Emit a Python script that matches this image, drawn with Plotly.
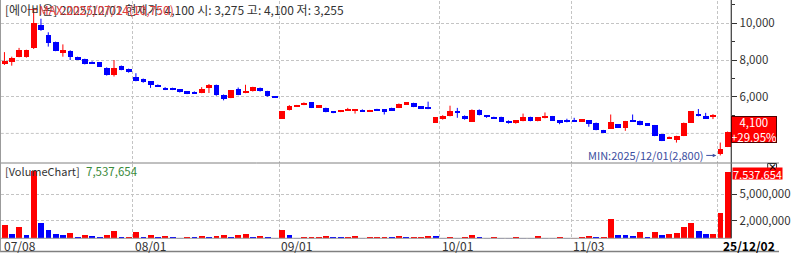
import plotly.graph_objects as go

W, H = 791, 255

# ---------------- data ----------------
stock_name = "에이비온"
opens = [7770, 7910, 8180, 8150, 8630, 9890, 9350, 8990, 8360, 8510,
         8150, 8050, 7890, 7870, 7590, 7190, 7680, 7510, 7100, 6970,
         6830, 6650, 6500, 6470, 6400, 6290, 6270, 6200, 6450, 6650,
         6110, 5930, 6420, 6200, 6290, 6490, 6310, 6020, 4800, 5260,
         5460, 5550, 5690, 5430, 5390, 5190, 5170, 5240, 5260, 5300,
         5190, 5330, 5260, 5390, 5390, 5590, 5660, 5480, 5370, 4580,
         4760, 4940, 5210, 4970, 4630, 5300, 4990, 4900, 4900, 4700,
         4540, 4670, 4900, 4670, 4830, 4940, 4720, 4720, 4700, 4670,
         4720, 4580, 4180, 4250, 4490, 4310, 4720, 4670, 4540, 4450,
         3950, 3730, 3640, 3860, 4580, 5080, 4900, 4900, 2870, 3275]
closes = [7960, 8090, 8540, 8540, 10040, 9660, 8940, 8510, 8540, 8150,
          8050, 7780, 7820, 7640, 7170, 7590, 7460, 7330, 6860, 6780,
          6650, 6560, 6380, 6380, 6250, 6160, 6180, 6430, 6630, 6110,
          5880, 6350, 6090, 6320, 6520, 6290, 6020, 5960, 5200, 5510,
          5530, 5620, 5390, 5460, 5160, 5120, 5240, 5330, 5300, 5200,
          5260, 5260, 5210, 5240, 5620, 5660, 5440, 5350, 5330, 4880,
          4970, 5210, 5100, 4760, 5300, 4990, 4900, 4810, 4630, 4540,
          4720, 4880, 4670, 4880, 4950, 4700, 4580, 4650, 4650, 4760,
          4490, 4180, 4040, 4630, 4310, 4670, 4650, 4450, 4430, 3860,
          3590, 3820, 3860, 4580, 5210, 4940, 4830, 4940, 3155, 4100]
highs = [8430, 8180, 8660, 8560, 10750, 10250, 9510, 9000, 8850, 8530,
         8180, 8070, 7930, 7890, 7600, 8000, 7700, 7530, 7280, 6990,
         6850, 6670, 6520, 6490, 6420, 6300, 6290, 6520, 6690, 6660,
         6120, 6360, 6500, 6650, 6540, 6500, 6320, 6030, 5210, 5540,
         5550, 5690, 5700, 5480, 5400, 5200, 5260, 5390, 5330, 5310,
         5280, 5340, 5280, 5400, 5630, 5700, 5670, 5490, 5730, 4890,
         4990, 5510, 5390, 4980, 5310, 5310, 5000, 4910, 4910, 4710,
         4730, 5080, 4910, 4890, 5140, 4950, 4730, 4800, 4850, 4770,
         4730, 4590, 4190, 5030, 4500, 4680, 5030, 4700, 4550, 4460,
         3960, 3830, 3870, 4590, 5220, 5330, 5120, 5050, 3500, 4100]
lows = [7730, 7690, 8150, 8130, 8600, 9590, 8730, 8480, 8180, 8000,
        8030, 7760, 7780, 7620, 7150, 7100, 7440, 7310, 6840, 6760,
        6480, 6540, 6360, 6360, 6230, 6140, 6160, 6190, 6200, 6050,
        5800, 5920, 6080, 6190, 6280, 6280, 6000, 5940, 4790, 5250,
        5440, 5540, 5380, 5410, 5150, 5100, 5160, 5230, 5080, 5190,
        5180, 5250, 5030, 5230, 5380, 5580, 5430, 5340, 5320, 4570,
        4750, 4930, 4850, 4750, 4620, 4980, 4850, 4800, 4620, 4530,
        4530, 4660, 4660, 4660, 4820, 4690, 4500, 4600, 4640, 4660,
        4360, 4170, 4030, 4240, 4300, 4140, 4640, 4440, 4420, 3850,
        3580, 3720, 3500, 3850, 4570, 4930, 4820, 4780, 2800, 3255]
volumes = [1550000, 580000, 1350000, 470000, 7750000, 1800000, 970000, 580000, 470000, 650000,
           190000, 470000, 270000, 190000, 380000, 850000, 190000, 200000, 730000, 100000,
           380000, 150000, 270000, 190000, 80000, 190000, 150000, 270000, 190000, 270000,
           380000, 190000, 380000, 600000, 190000, 270000, 150000, 80000, 1050000, 390000,
           80000, 100000, 120000, 190000, 270000, 190000, 150000, 160000, 270000, 60000,
           120000, 150000, 160000, 100000, 310000, 100000, 150000, 230000, 320000, 300000,
           50000, 230000, 80000, 150000, 390000, 150000, 40000, 150000, 80000, 40000,
           190000, 80000, 40000, 270000, 80000, 40000, 120000, 50000, 80000, 150000,
           310000, 120000, 150000, 2290000, 390000, 380000, 270000, 780000, 120000, 780000,
           390000, 540000, 620000, 1360000, 1740000, 850000, 500000, 580000, 2900000, 7537654]

grid_idx = [18, 38, 60, 78, 98]
date_labels_idx = [0, 18, 38, 60, 78]
date_labels = ["07/08", "08/01", "09/01", "10/01", "11/03"]
last_date_label = "25/12/02"
price_ticks = [6000, 8000, 10000]
price_hidden_grid = [4000]
vol_ticks = [2000000, 5000000]
vol_tick_text = ["2,000,000", "5,000,000"]

header_text = "[에이비온] 2025/12/02 현재가: 4,100 시: 3,275 고: 4,100 저: 3,255"
max_text = "MAX:2025/07/14(10,750)"
min_text = "MIN:2025/12/01(2,800)"
cur_price_text = "4,100<br>+29.95%"
cur_volume_text = "7,537,654"

# ---------------- layout geometry (pixels) ----------------
X0, X1 = 0.8, 742.5
P_TOP, P_BOT = 1.0, 162.5
V_TOP, V_BOT = 163.5, 238.3
RED, BLUE = "#ff0000", "#0000ff"
FONT = "Noto Sans CJK KR, Noto Sans, sans-serif"
GRID = "#c4c4c4"
Y_RANGE = [2414, 11215]


def fx(px):
    return px / W


def fy(py):
    return 1 - py / H


n = len(opens)
idx = list(range(n))
up = [c >= o for o, c in zip(opens, closes)]

fig = go.Figure()

# wicks
for flag, col in ((True, RED), (False, BLUE)):
    xs, ys = [], []
    for i in idx:
        if up[i] == flag:
            xs += [i, i, None]
            ys += [lows[i], highs[i], None]
    fig.add_trace(go.Scatter(x=xs, y=ys, mode="lines", line=dict(color=col, width=1),
                             hoverinfo="skip", showlegend=False))

# bodies
for flag, col in ((True, RED), (False, BLUE)):
    bx = [i for i in idx if up[i] == flag]
    base = [min(opens[i], closes[i]) for i in bx]
    hgt = [max(abs(closes[i] - opens[i]), 95) for i in bx]
    fig.add_trace(go.Bar(x=bx, y=hgt, base=base, width=0.78, marker=dict(color=col, line=dict(width=0)),
                         showlegend=False, hoverinfo="skip"))

# volume (red when volume rises vs previous day)
vcol = [RED if i == 0 or volumes[i] >= volumes[i - 1] else BLUE for i in idx]
fig.add_trace(go.Bar(x=idx, y=volumes, width=0.8, marker=dict(color=vcol, line=dict(width=0)),
                     xaxis="x2", yaxis="y2", showlegend=False, hoverinfo="skip"))

grid_pos = [g - 0.4 for g in grid_idx]
xcommon = dict(range=[-0.5, n - 0.5], tickvals=grid_pos, showticklabels=False, ticks="",
               showgrid=True, gridcolor=GRID, griddash="3px,2px", gridwidth=1,
               zeroline=False, showline=False, domain=[fx(X0), fx(X1)], fixedrange=True)

fig.update_layout(
    width=W, height=H, margin=dict(l=0, r=0, t=0, b=0),
    paper_bgcolor="white", plot_bgcolor="white", barmode="overlay", bargap=0,
    font=dict(family=FONT, size=12, color="#333"),
    xaxis=dict(anchor="y", **xcommon),
    xaxis2=dict(anchor="y2", matches="x", **xcommon),
    yaxis=dict(domain=[fy(P_BOT), fy(P_TOP)], range=Y_RANGE, side="right",
               tickvals=price_ticks, tickformat=",d", ticks="outside", ticklen=5,
               tickcolor="#333", tickfont=dict(size=11.5, color="#333", family=FONT),
               showgrid=True, gridcolor=GRID, griddash="3px,2px", zeroline=False,
               showline=False, fixedrange=True,
               minor=dict(tickvals=[5000, 7000, 9000, 11000], ticks="outside", ticklen=3,
                          tickcolor="#333", showgrid=False)),
    yaxis2=dict(domain=[fy(V_BOT), fy(V_TOP)], range=[0, 8500000], side="right",
                tickvals=vol_ticks, ticktext=vol_tick_text, ticks="outside", ticklen=5,
                tickcolor="#333", tickfont=dict(size=11.5, color="#333", family=FONT),
                showgrid=True, gridcolor=GRID, griddash="3px,2px", zeroline=False,
                showline=False, fixedrange=True),
)

shapes = [
    dict(type="line", xref="paper", yref="paper", x0=fx(X1), x1=fx(X1), y0=fy(0), y1=fy(V_BOT),
         line=dict(color="#111", width=1)),
    dict(type="line", xref="paper", yref="paper", x0=0, x1=1, y0=fy(163), y1=fy(163),
         line=dict(color="#808080", width=1)),
    dict(type="line", xref="paper", yref="paper", x0=0, x1=fx(X1), y0=fy(V_BOT), y1=fy(V_BOT),
         line=dict(color="#9a9a9a", width=1)),
    dict(type="line", xref="paper", yref="paper", x0=0, x1=1, y0=fy(251.5), y1=fy(251.5),
         line=dict(color="#808080", width=1.5)),
    dict(type="line", xref="paper", yref="paper", x0=fx(0.5), x1=fx(0.5), y0=fy(0), y1=fy(251.5),
         line=dict(color="#9a9a9a", width=1)),
    # MAX marker line
    dict(type="line", xref="paper", yref="y", x0=fx(28), x1=fx(38), y0=max(highs), y1=max(highs),
         line=dict(color="#e03c3c", width=1)),
    # close box of the volume pane
    dict(type="rect", xref="paper", yref="paper", x0=fx(779.5), x1=fx(788.5), y0=fy(163.5), y1=fy(170),
         fillcolor="white", line=dict(color="#333", width=1)),
]
for g in price_hidden_grid:
    shapes.append(dict(type="line", xref="paper", yref="y", x0=fx(X0), x1=fx(X1), y0=g, y1=g,
                       layer="below", line=dict(color=GRID, width=1, dash="3px,2px")))
    shapes.append(dict(type="line", xref="paper", yref="y", x0=fx(X1), x1=fx(X1 + 5), y0=g, y1=g,
                       line=dict(color="#333", width=1)))
fig.update_layout(shapes=shapes)

imin = lows.index(min(lows))

ann = [
    dict(xref="paper", yref="paper", x=fx(3), y=fy(10), xanchor="left", yanchor="middle",
         text=header_text, showarrow=False, font=dict(size=12, color="#333", family=FONT)),
    dict(xref="paper", yref="y", x=fx(38), y=max(highs), xanchor="left", yanchor="middle",
         text=max_text, showarrow=False, font=dict(size=12, color="#e03c3c", family=FONT)),
    dict(xref="x", yref="y", x=imin - 0.55, y=min(lows), ax=-10, ay=0, xanchor="right",
         yanchor="middle", text=min_text, showarrow=True, arrowhead=2, arrowsize=0.7,
         arrowwidth=1, arrowcolor="#3c4ea0", standoff=0,
         font=dict(size=11, color="#3c4ea0", family=FONT)),
    dict(xref="paper", yref="paper", x=fx(766), y=fy(129), xanchor="center", yanchor="middle",
         text=cur_price_text, showarrow=False, bgcolor=RED, bordercolor="#500000", borderwidth=1,
         borderpad=0, width=44, height=25, align="center",
         font=dict(size=11.5, color="white", family=FONT)),
    dict(xref="paper", yref="paper", x=fx(3), y=fy(170.5), xanchor="left", yanchor="middle",
         text="[VolumeChart]", showarrow=False, font=dict(size=11, color="#333", family=FONT)),
    dict(xref="paper", yref="paper", x=fx(85), y=fy(170.5), xanchor="left", yanchor="middle",
         text=cur_volume_text, showarrow=False, font=dict(size=11.5, color="#3a8a3a", family=FONT)),
    dict(xref="paper", yref="paper", x=fx(743), y=fy(173), xanchor="left", yanchor="middle",
         text=cur_volume_text, showarrow=False, bgcolor=RED, borderpad=0, height=11,
         font=dict(size=11, color="white", family=FONT)),
    dict(xref="paper", yref="paper", x=fx(784), y=fy(166.5), xanchor="center", yanchor="middle",
         text="<b>×</b>", showarrow=False, font=dict(size=9, color="#000", family=FONT)),
    dict(xref="paper", yref="paper", x=fx(789), y=fy(245.5), xanchor="right", yanchor="middle",
         text="<b>" + last_date_label + "</b>", showarrow=False,
         font=dict(size=12, color="#000", family=FONT)),
]
for i, lab in zip(date_labels_idx, date_labels):
    xpx = X0 + (i - 0.4 + 0.5) * (X1 - X0) / n if i > 0 else 2.5
    ann.append(dict(xref="paper", yref="paper", x=fx(xpx), y=fy(245.5), xanchor="left",
                    yanchor="middle", text=lab, showarrow=False,
                    font=dict(size=12, color="#333", family=FONT)))
fig.update_layout(annotations=ann)

fig.write_html("out.html", config={"displayModeBar": False})
